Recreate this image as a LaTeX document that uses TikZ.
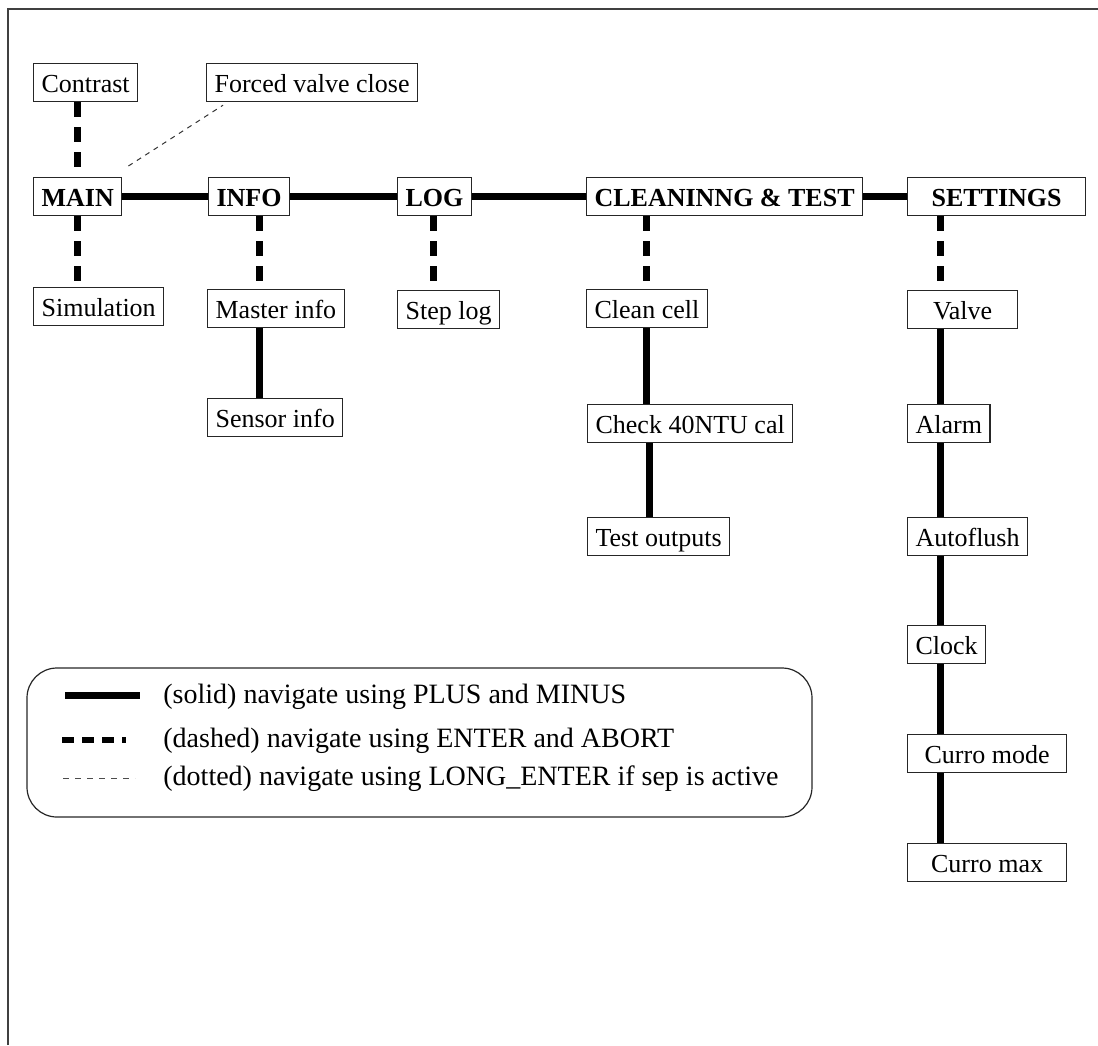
\documentclass[tikz,border=0pt]{standalone}
\usepackage{fontspec}
\setmainfont{Liberation Serif}
\begin{document}
\begin{tikzpicture}[x=0.5pt,y=-0.5pt,
  box/.style={draw=black!85,line width=0.6pt,anchor=north west,inner xsep=4pt,inner ysep=0pt,
    text height=14.3pt,text depth=4.7pt,font=\fontsize{13}{15}\selectfont},
  hd/.style={box,font=\fontsize{13}{15}\selectfont\bfseries},
  plusline/.style={line width=3.5pt},
  enterline/.style={line width=3.5pt,dash pattern=on 7.5pt off 5pt},
  longline/.style={line width=0.5pt,black!80,dash pattern=on 2.5pt off 2.5pt},
  legtext/.style={anchor=base west,inner sep=0pt,font=\fontsize{14}{16}\selectfont},
]
\useasboundingbox (0,0) rectangle (1098,1045);
\draw[line width=1pt,black!75] (8,1045) -- (8,9) -- (1098,9);

% top row
\node[hd] (MAIN) at (33,177) {MAIN};
\node[hd] (INFO) at (208,177) {INFO};
\node[hd] (LOG) at (397,177) {LOG};
\node[hd] (CLEAN) at (586,177) {CLEANINNG \& TEST};
\node[hd,minimum width=89pt] (SET) at (907,177) {SETTINGS};

% upper boxes
\node[box] (Contrast) at (33,63) {Contrast};
\node[box] (Forced) at (206,63) {Forced valve close};

% sub boxes
\node[box] (Sim) at (33,287) {Simulation};
\node[box] (Master) at (207,289) {Master info};
\node[box] (Sensor) at (207,398) {Sensor info};
\node[box] (Step) at (397,290) {Step log};
\node[box] (Cell) at (586,289) {Clean cell};
\node[box] (Check) at (587,404) {Check 40NTU cal};
\node[box] (Test) at (587,517) {Test outputs};
\node[box,minimum width=55pt] (Valve) at (907,290) {Valve};
\node[box] (Alarm) at (907,404) {Alarm};
\node[box] (Auto) at (907,517) {Autoflush};
\node[box] (Clock) at (907,625) {Clock};
\node[box,minimum width=79.5pt] (CMode) at (907,734) {Curro mode};
\node[box,minimum width=79.5pt] (CMax) at (907,843) {Curro max};

% column x positions
\coordinate (mx) at (77.5,0);
\coordinate (ix) at (259.5,0);
\coordinate (lx) at (433.5,0);
\coordinate (cx) at (646.5,0);
\coordinate (cx2) at (649.5,0);
\coordinate (sx) at (940.5,0);

% horizontal PLUS/MINUS chain
\draw[plusline] (MAIN.east) -- (INFO.west);
\draw[plusline] (INFO.east) -- (LOG.west);
\draw[plusline] (LOG.east) -- (CLEAN.west);
\draw[plusline] (CLEAN.east) -- (SET.west);

% ENTER/ABORT connectors
\draw[enterline] (Contrast.south -| mx) -- (MAIN.north -| mx);
\draw[enterline] (MAIN.south -| mx) -- (Sim.north -| mx);
\draw[enterline] (INFO.south -| ix) -- (Master.north -| ix);
\draw[enterline] (LOG.south -| lx) -- (Step.north -| lx);
\draw[enterline] (CLEAN.south -| cx) -- (Cell.north -| cx);
\draw[enterline] (SET.south -| sx) -- (Valve.north -| sx);

% vertical PLUS/MINUS chains
\draw[plusline] (Master.south -| ix) -- (Sensor.north -| ix);
\draw[plusline] (Cell.south -| cx) -- (Check.north -| cx);
\draw[plusline] (Check.south -| cx2) -- (Test.north -| cx2);
\draw[plusline] (Valve.south -| sx) -- (Alarm.north -| sx);
\draw[plusline] (Alarm.south -| sx) -- (Auto.north -| sx);
\draw[plusline] (Auto.south -| sx) -- (Clock.north -| sx);
\draw[plusline] (Clock.south -| sx) -- (CMode.north -| sx);
\draw[plusline] (CMode.south -| sx) -- (CMax.north -| sx);

% LONG_ENTER
\coordinate (d1) at ([shift={(6,-11)}]MAIN.north east);
\coordinate (d2) at ([shift={(17,3)}]Forced.south west);
\draw[longline] (d1) -- (d2);

% legend
\draw[line width=0.6pt,black!85,rounded corners=15pt] (27,668) rectangle (812,817);
\draw[line width=3.5pt] (65,695.5) -- (140,695.5);
\draw[line width=2.8pt,dash pattern=on 5.85pt off 4.15pt] (62,740) -- (125.5,740);
\draw[line width=0.5pt,black!70,dash pattern=on 3pt off 3pt] (63,778) -- (135,778);
\node[legtext] (L1) at (163,703) {(solid) navigate using PLUS and MINUS};
\node[legtext] (L2) at (163,747.5) {(dashed) navigate using ENTER and ABORT};
\node[legtext] (L3) at (163,785.5) {(dotted) navigate using LONG\_ENTER if sep is active};
\end{tikzpicture}
\end{document}
